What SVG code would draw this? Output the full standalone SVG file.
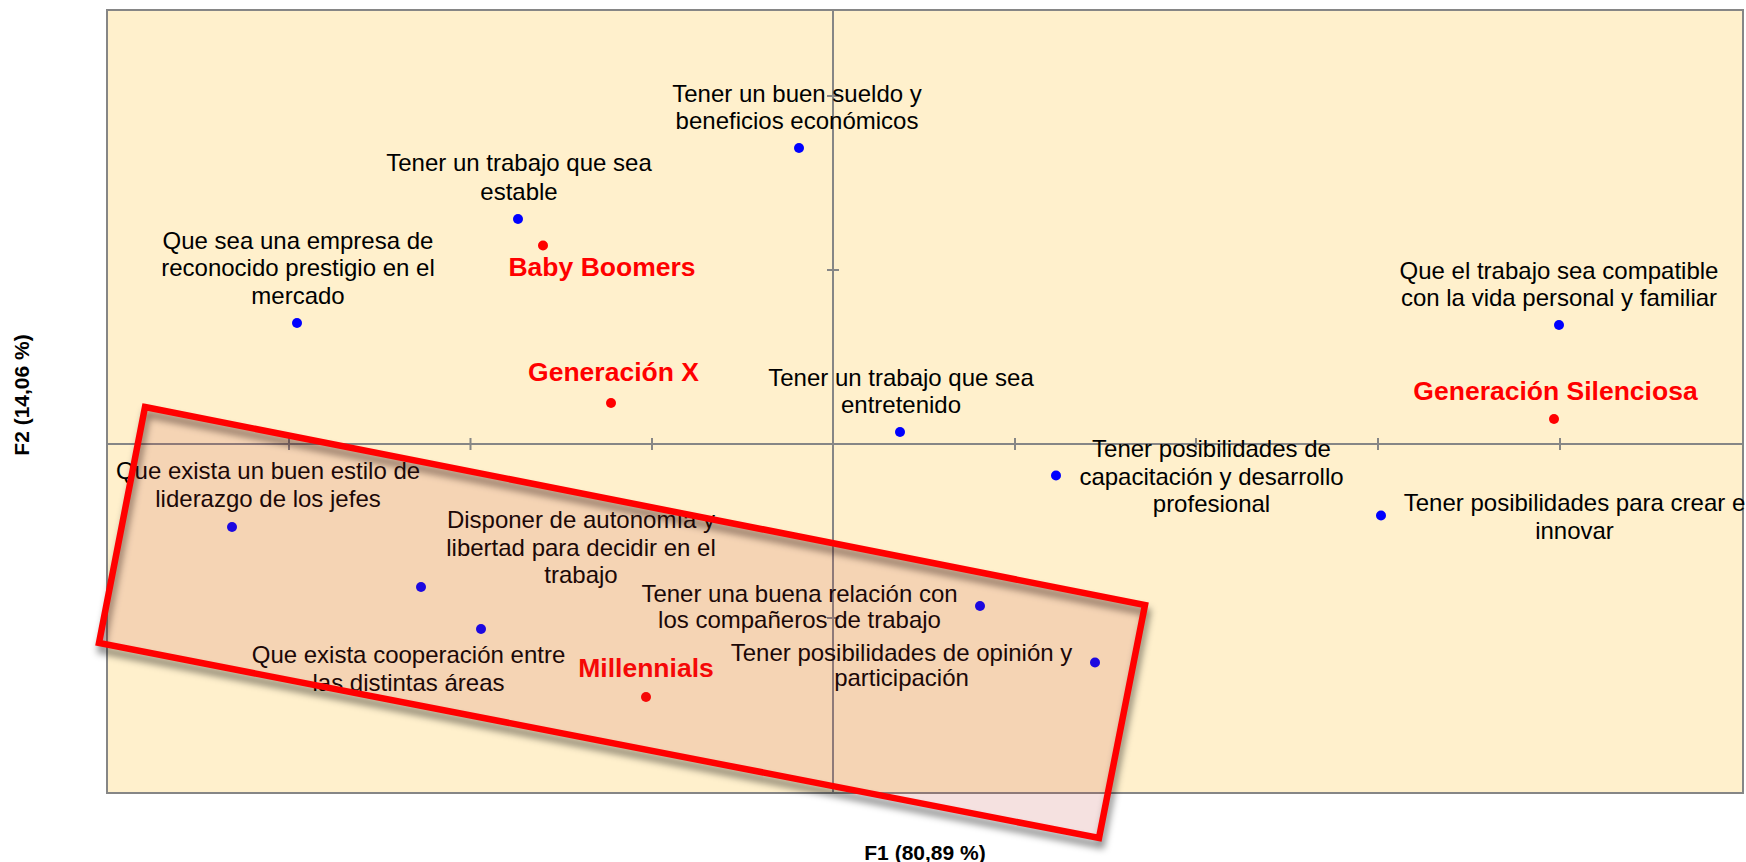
<svg xmlns="http://www.w3.org/2000/svg" width="1746" height="862" viewBox="0 0 1746 862">
<style>
.lbl{font-family:"Liberation Sans",Arial,sans-serif;font-size:24px;fill:#000;text-anchor:middle}
.grp{font-family:"Liberation Sans",Arial,sans-serif;font-size:26.5px;font-weight:bold;fill:#FF0000;text-anchor:middle}
.ax{font-family:"Liberation Sans",Arial,sans-serif;font-size:21px;font-weight:bold;fill:#000;text-anchor:middle}
.axl{stroke:#868686;stroke-width:2;fill:none}
.b{fill:#0000FF}
.r{fill:#FF0000}
</style>
<defs>
<filter id="sh" x="-10%" y="-20%" width="120%" height="140%">
<feGaussianBlur stdDeviation="3.5"/>
</filter>
</defs>
<rect x="0" y="0" width="1746" height="862" fill="#FFFFFF"/>
<rect x="107" y="10" width="1636" height="783" fill="#FFF0CC" stroke="#868686" stroke-width="2"/>
<g id="axes">
<line class="axl" x1="107" y1="444" x2="1743" y2="444"/>
<line class="axl" x1="833" y1="10" x2="833" y2="793"/>
<path class="axl" d="M289 438v12M470.5 438v12M652 438v12M1015 438v12M1196 438v12M1378 438v12M1560 438v12M827 96h12M827 270h12M827 618h12"/>
</g>
<g id="connectors"></g>
<g id="n-sueldo"><circle class="b" cx="799" cy="148" r="5"/><text class="lbl" x="797" y="101.5">Tener un buen sueldo y</text><text class="lbl" x="797" y="128.5">beneficios económicos</text></g>
<g id="n-estable"><circle class="b" cx="518" cy="219" r="5"/><text class="lbl" x="519" y="171">Tener un trabajo que sea</text><text class="lbl" x="519" y="199.5">estable</text></g>
<g id="n-empresa"><circle class="b" cx="297" cy="323" r="5"/><text class="lbl" x="298" y="248.5">Que sea una empresa de</text><text class="lbl" x="298" y="276">reconocido prestigio en el</text><text class="lbl" x="298" y="303.5">mercado</text></g>
<g id="n-compatible"><circle class="b" cx="1559" cy="325" r="5"/><text class="lbl" x="1559" y="278.5">Que el trabajo sea compatible</text><text class="lbl" x="1559" y="306">con la vida personal y familiar</text></g>
<g id="n-entretenido"><circle class="b" cx="900" cy="432" r="5"/><text class="lbl" x="901" y="385.5">Tener un trabajo que sea</text><text class="lbl" x="901" y="413">entretenido</text></g>
<g id="n-capacitacion"><circle class="b" cx="1056" cy="475.5" r="5"/><text class="lbl" x="1211.5" y="456.5">Tener posibilidades de</text><text class="lbl" x="1211.5" y="484.5">capacitación y desarrollo</text><text class="lbl" x="1211.5" y="512">profesional</text></g>
<g id="n-crear"><circle class="b" cx="1381" cy="515.5" r="5"/><text class="lbl" x="1574.5" y="511">Tener posibilidades para crear e</text><text class="lbl" x="1574.5" y="539">innovar</text></g>
<g id="n-liderazgo"><circle class="b" cx="232" cy="527" r="5"/><text class="lbl" x="268" y="479">Que exista un buen estilo de</text><text class="lbl" x="268" y="507">liderazgo de los jefes</text></g>
<g id="n-autonomia"><circle class="b" cx="421" cy="587" r="5"/><text class="lbl" x="581" y="528">Disponer de autonomía y</text><text class="lbl" x="581" y="556">libertad para decidir en el</text><text class="lbl" x="581" y="583">trabajo</text></g>
<g id="n-cooperacion"><circle class="b" cx="481" cy="629" r="5"/><text class="lbl" x="408.5" y="662.5">Que exista cooperación entre</text><text class="lbl" x="408.5" y="690.5">las distintas áreas</text></g>
<g id="n-relacion"><circle class="b" cx="980" cy="606" r="5"/><text class="lbl" x="799.5" y="601.5">Tener una buena relación con</text><text class="lbl" x="799.5" y="628">los compañeros de trabajo</text></g>
<g id="n-opinion"><circle class="b" cx="1095" cy="662.5" r="5"/><text class="lbl" x="901.5" y="660.5">Tener posibilidades de opinión y</text><text class="lbl" x="901.5" y="686">participación</text></g>
<g id="g-boomers"><circle class="r" cx="543" cy="245.5" r="5"/><text class="grp" x="602" y="275.5">Baby Boomers</text></g>
<g id="g-x"><circle class="r" cx="611" cy="403" r="5"/><text class="grp" x="613.5" y="381">Generación X</text></g>
<g id="g-silenciosa"><circle class="r" cx="1554" cy="419" r="5"/><text class="grp" x="1555.5" y="400">Generación Silenciosa</text></g>
<g id="g-millennials"><circle class="r" cx="646" cy="697" r="5"/><text class="grp" x="646" y="677">Millennials</text></g>
<g id="highlight">
<polygon points="145,407 1145,605 1099,838 99,643" fill="none" stroke="#000" stroke-opacity="0.45" stroke-width="7" stroke-linejoin="miter" filter="url(#sh)" transform="translate(2,7)"/>
<polygon points="145,407 1145,605 1099,838 99,643" fill="#BC3730" fill-opacity="0.15" stroke="#FF0000" stroke-width="6.5" stroke-linejoin="miter"/>
</g>
<text class="ax" x="925" y="860">F1 (80,89 %)</text>
<text class="ax" transform="translate(29,395) rotate(-90)" x="0" y="0">F2 (14,06 %)</text>
</svg>
